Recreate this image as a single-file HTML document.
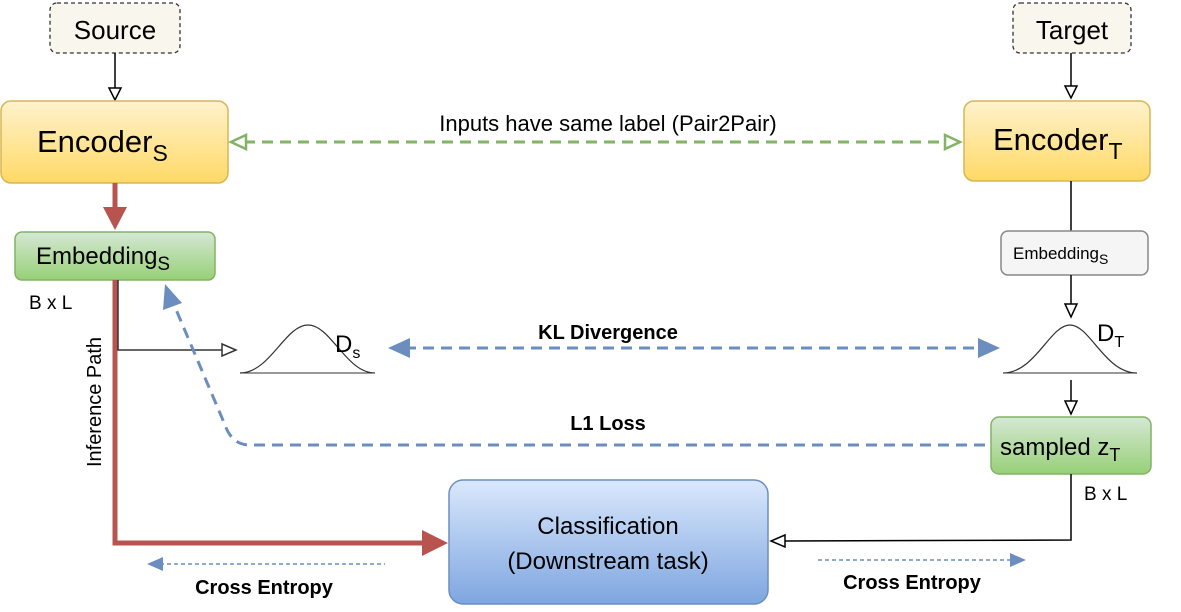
<!DOCTYPE html>
<html><head><meta charset="utf-8"><style>
html,body{margin:0;padding:0;background:#fff;}
svg{display:block;font-family:"Liberation Sans",Arial,sans-serif;}
</style></head><body>
<svg width="1181" height="612" viewBox="0 0 1181 612" xmlns="http://www.w3.org/2000/svg">
<defs>
<linearGradient id="yel" x1="0" y1="0" x2="0" y2="1"><stop offset="0" stop-color="#fff2cc"/><stop offset="1" stop-color="#ffd966"/></linearGradient>
<linearGradient id="grn" x1="0" y1="0" x2="0" y2="1"><stop offset="0" stop-color="#d5e8d4"/><stop offset="1" stop-color="#97d077"/></linearGradient>
<linearGradient id="blu" x1="0" y1="0" x2="0" y2="1"><stop offset="0" stop-color="#dae8fc"/><stop offset="1" stop-color="#7ea6e0"/></linearGradient>
</defs>
<rect x="50" y="3" width="130" height="50" rx="7" fill="#f9f7ed" stroke="#333" stroke-dasharray="4 3" stroke-width="1.3"/>
<text x="115" y="39" font-size="26" text-anchor="middle">Source</text>
<rect x="1013" y="3" width="118" height="50" rx="7" fill="#f9f7ed" stroke="#333" stroke-dasharray="4 3" stroke-width="1.3"/>
<text x="1072" y="39" font-size="26" text-anchor="middle">Target</text>
<line x1="115" y1="53" x2="115" y2="88" stroke="#000" stroke-width="1.5"/>
<polygon points="109,88 121,88 115,100" fill="#fff" stroke="#000" stroke-width="1.5"/>
<line x1="1071" y1="53" x2="1071" y2="86" stroke="#000" stroke-width="1.5"/>
<polygon points="1065,86 1077,86 1071,98" fill="#fff" stroke="#000" stroke-width="1.5"/>
<rect x="1" y="101" width="227" height="82" rx="10" fill="url(#yel)" stroke="#d6b656" stroke-width="1.5"/>
<text x="37" y="152" font-size="31">Encoder<tspan font-size="23" dy="9">S</tspan></text>
<rect x="964" y="101" width="186" height="80" rx="10" fill="url(#yel)" stroke="#d6b656" stroke-width="1.5"/>
<text x="993" y="150" font-size="31">Encoder<tspan font-size="23" dy="9">T</tspan></text>
<line x1="244" y1="142" x2="946" y2="142" stroke="#82b366" stroke-width="3" stroke-dasharray="11 7"/>
<polygon points="231,142 246,135 246,149" fill="#fff" stroke="#82b366" stroke-width="2.5"/>
<polygon points="960,142 945,135 945,149" fill="#fff" stroke="#82b366" stroke-width="2.5"/>
<text x="608" y="131" font-size="22" text-anchor="middle">Inputs have same label (Pair2Pair)</text>
<line x1="115" y1="183" x2="115" y2="210" stroke="#b85450" stroke-width="5"/>
<polygon points="103,207 127,207 115,230" fill="#b85450"/>
<rect x="15" y="232" width="200" height="48" rx="7" fill="url(#grn)" stroke="#82b366" stroke-width="1.5"/>
<text x="36" y="264" font-size="24">Embedding<tspan font-size="19" dy="6">S</tspan></text>
<polyline points="115,280 115,543 425,543" fill="none" stroke="#b85450" stroke-width="5"/>
<polygon points="422,530 448,543 422,556" fill="#b85450"/>
<text x="29" y="309" font-size="19">B x L</text>
<text transform="translate(101,402) rotate(-90)" font-size="20" text-anchor="middle">Inference Path</text>
<polyline points="118,280 118,350 222,350" fill="none" stroke="#333" stroke-width="1.5"/>
<polygon points="222,344 236,350 222,356" fill="#fff" stroke="#333" stroke-width="1.5"/>
<path d="M240,373 C270,373 285,325 308,325 C331,325 346,373 375,373" fill="none" stroke="#333" stroke-width="1.2"/>
<line x1="240" y1="373" x2="375" y2="373" stroke="#333" stroke-width="1"/>
<text x="335" y="352" font-size="24">D<tspan font-size="16" dy="6">s</tspan></text>
<path d="M1003,373 C1035,373 1050,325 1070,325 C1090,325 1105,373 1137,373" fill="none" stroke="#333" stroke-width="1.2"/>
<line x1="1003" y1="373" x2="1137" y2="373" stroke="#333" stroke-width="1"/>
<text x="1097" y="341" font-size="24">D<tspan font-size="16" dy="6">T</tspan></text>
<line x1="405" y1="348" x2="985" y2="348" stroke="#6c8ebf" stroke-width="3" stroke-dasharray="11 7"/>
<polygon points="388,348 410,338 410,358" fill="#6c8ebf"/>
<polygon points="1000,348 978,338 978,358" fill="#6c8ebf"/>
<text x="608" y="339" font-size="20" font-weight="bold" text-anchor="middle">KL Divergence</text>
<line x1="1071" y1="181" x2="1071" y2="231" stroke="#000" stroke-width="1.5"/>
<rect x="1001" y="231" width="147" height="44" rx="7" fill="#f5f5f5" stroke="#888" stroke-width="1.5"/>
<text x="1013" y="259" font-size="17">Embedding<tspan font-size="14" dy="5">S</tspan></text>
<line x1="1071" y1="275" x2="1071" y2="305" stroke="#000" stroke-width="1.5"/>
<polygon points="1065,304 1077,304 1071,317" fill="#fff" stroke="#000" stroke-width="1.5"/>
<line x1="1071" y1="380" x2="1071" y2="402" stroke="#000" stroke-width="1.5"/>
<polygon points="1065,401 1077,401 1071,414" fill="#fff" stroke="#000" stroke-width="1.5"/>
<rect x="991" y="417" width="160" height="57" rx="8" fill="url(#grn)" stroke="#82b366" stroke-width="1.5"/>
<text x="1000" y="455" font-size="24">sampled z<tspan font-size="18" dy="6">T</tspan></text>
<polyline points="1071,474 1071,540 785,541" fill="none" stroke="#000" stroke-width="1.5"/>
<polygon points="785,535 771,541 785,547" fill="#fff" stroke="#000" stroke-width="1.5"/>
<text x="1084" y="500" font-size="19">B x L</text>
<path d="M985,445 L250,445 Q232,445 225,425 L172,300" fill="none" stroke="#6c8ebf" stroke-width="3" stroke-dasharray="11 7"/>
<polygon points="165,284 182,303 163,310" fill="#6c8ebf"/>
<text x="608" y="430" font-size="20" font-weight="bold" text-anchor="middle">L1 Loss</text>
<rect x="449" y="480" width="319" height="124" rx="14" fill="url(#blu)" stroke="#6c8ebf" stroke-width="1.5"/>
<text x="608" y="534" font-size="24" text-anchor="middle">Classification</text>
<text x="608" y="569" font-size="24" text-anchor="middle">(Downstream task)</text>
<line x1="160" y1="564" x2="385" y2="564" stroke="#6c8ebf" stroke-width="1.5" stroke-dasharray="4 3"/>
<polygon points="147,564 163,557 163,571" fill="#6c8ebf"/>
<text x="264" y="594" font-size="20" font-weight="bold" text-anchor="middle">Cross Entropy</text>
<line x1="818" y1="560" x2="1012" y2="560" stroke="#6c8ebf" stroke-width="1.5" stroke-dasharray="4 3"/>
<polygon points="1026,560 1010,553 1010,567" fill="#6c8ebf"/>
<text x="912" y="589" font-size="20" font-weight="bold" text-anchor="middle">Cross Entropy</text>
</svg>
</body></html>
